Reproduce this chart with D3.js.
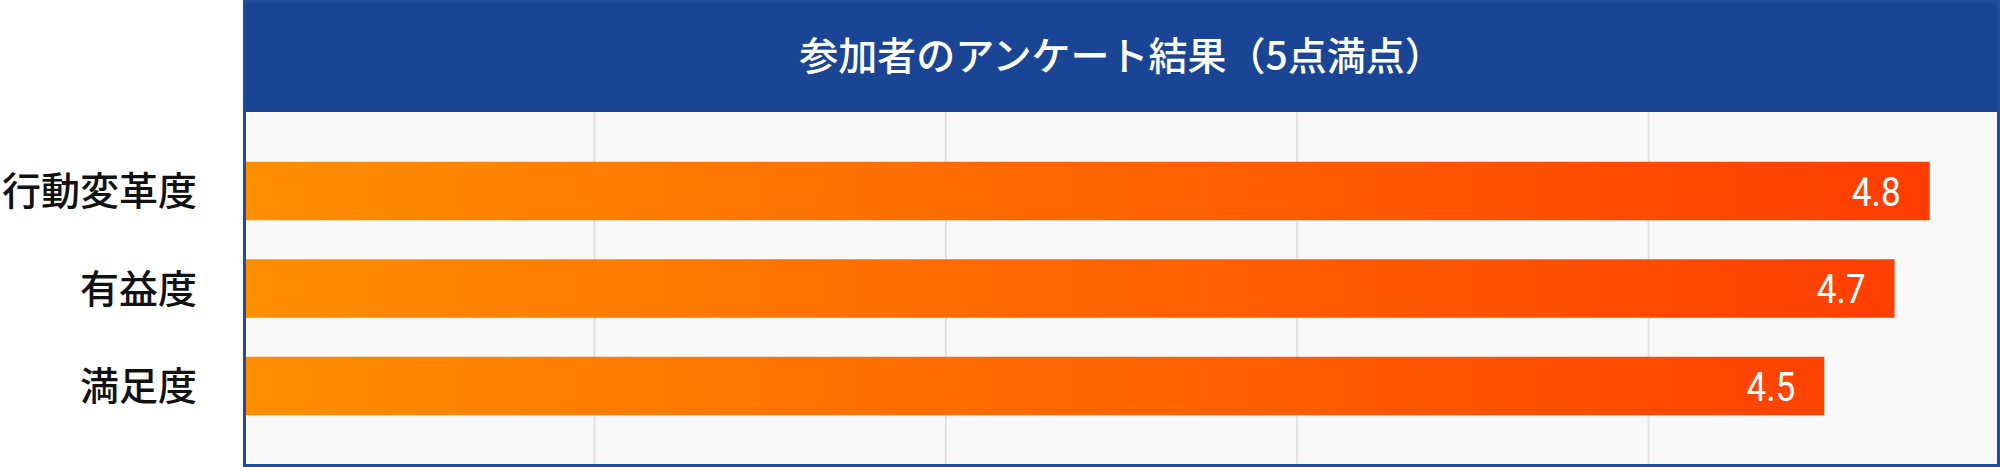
<!DOCTYPE html>
<html>
<head>
<meta charset="utf-8">
<script src="https://cdn.jsdelivr.net/npm/d3@7"></script>
<style>
  body { margin: 0; background: #fff; }
  svg { display: block; }
</style>
</head>
<body>
<div id="plotDiv"></div>
<script>
// --- Data ---
const categories = ["行動変革度", "有益度", "満足度"];
const scores = [4.8, 4.7, 4.5];
const gridTicks = [1, 2, 3, 4];
const chartTitle = "参加者のアンケート結果（5点満点）";

// --- Definitions ---
const width = 2000;
const height = 467;
const frame = {left: 243, right: 2000, top: 0, bottom: 467};
const headerHeight = 112;

const svg = d3.select("#plotDiv")
  .append("svg")
  .attr("width", width)
  .attr("height", height);

// gradient shared by all bars (runs across the whole plot)
const defs = svg.append("defs");
const grad = defs.append("linearGradient")
  .attr("id", "barGrad")
  .attr("gradientUnits", "userSpaceOnUse")
  .attr("x1", frame.left).attr("x2", frame.right)
  .attr("y1", 0).attr("y2", 0);
grad.append("stop").attr("offset", "0%").attr("stop-color", "#ff8e00");
grad.append("stop").attr("offset", "100%").attr("stop-color", "#ff3a00");

// --- Scales ---
const x = d3.scaleLinear()
  .domain([0, 5])
  .range([frame.left, frame.right]);

const y = d3.scaleBand()
  .domain(categories)
  .range([headerHeight + 1, frame.bottom - 3])
  .paddingInner(0.4)
  .paddingOuter(0.5);

// --- Plot background ---
svg.append("rect")
  .attr("x", frame.left)
  .attr("y", headerHeight)
  .attr("width", frame.right - frame.left)
  .attr("height", frame.bottom - headerHeight)
  .attr("fill", "#f9f9f9");

// --- Gridlines ---
svg.append("g")
  .attr("class", "grid")
  .selectAll("line")
  .data(gridTicks)
  .join("line")
  .attr("x1", d => x(d))
  .attr("x2", d => x(d))
  .attr("y1", headerHeight)
  .attr("y2", frame.bottom)
  .attr("stroke", "#e1e1e1")
  .attr("stroke-width", 2);

// --- Bars ---
const rows = categories.map((c, i) => ({name: c, value: scores[i]}));

svg.append("g")
  .attr("class", "bars")
  .selectAll("rect")
  .data(rows)
  .join("rect")
  .attr("x", x(0))
  .attr("y", d => y(d.name))
  .attr("width", d => x(d.value) - x(0))
  .attr("height", y.bandwidth())
  .attr("fill", "url(#barGrad)");

// --- Value labels (narrow digits) ---
svg.append("g")
  .attr("class", "values")
  .selectAll("text")
  .data(rows)
  .join("text")
  .attr("transform", d => `translate(${x(d.value) - 29}, ${y(d.name) + y.bandwidth() / 2}) scale(0.86,1)`)
  .attr("text-anchor", "end")
  .attr("dy", "0.36em")
  .attr("font-family", "Roboto, sans-serif")
  .attr("font-size", 41)
  .attr("fill", "#fff")
  .text(d => d.value.toFixed(1));

// --- Category labels ---
svg.append("g")
  .attr("class", "labels")
  .selectAll("text")
  .data(categories)
  .join("text")
  .attr("x", 197)
  .attr("y", d => y(d) + y.bandwidth() / 2)
  .attr("dy", "0.36em")
  .attr("text-anchor", "end")
  .attr("font-family", "'Noto Sans CJK JP', sans-serif")
  .attr("font-weight", 500)
  .attr("font-size", 39)
  .attr("fill", "#111")
  .text(d => d);

// --- Header ---
svg.append("rect")
  .attr("x", frame.left)
  .attr("y", 0)
  .attr("width", frame.right - frame.left)
  .attr("height", headerHeight)
  .attr("fill", "#1a4594");

svg.append("text")
  .attr("x", (frame.left + frame.right) / 2)
  .attr("y", headerHeight / 2)
  .attr("dy", "0.36em")
  .attr("text-anchor", "middle")
  .attr("font-family", "'Noto Sans CJK JP', sans-serif")
  .attr("font-weight", 500)
  .attr("font-size", 39)
  .attr("fill", "#fff")
  .text(chartTitle);

// --- Frame border ---
svg.append("rect")
  .attr("x", frame.left + 1.5)
  .attr("y", 1.5)
  .attr("width", frame.right - frame.left - 3)
  .attr("height", frame.bottom - 3)
  .attr("fill", "none")
  .attr("stroke", "#1f4c9c")
  .attr("stroke-width", 3);
</script>
</body>
</html>
